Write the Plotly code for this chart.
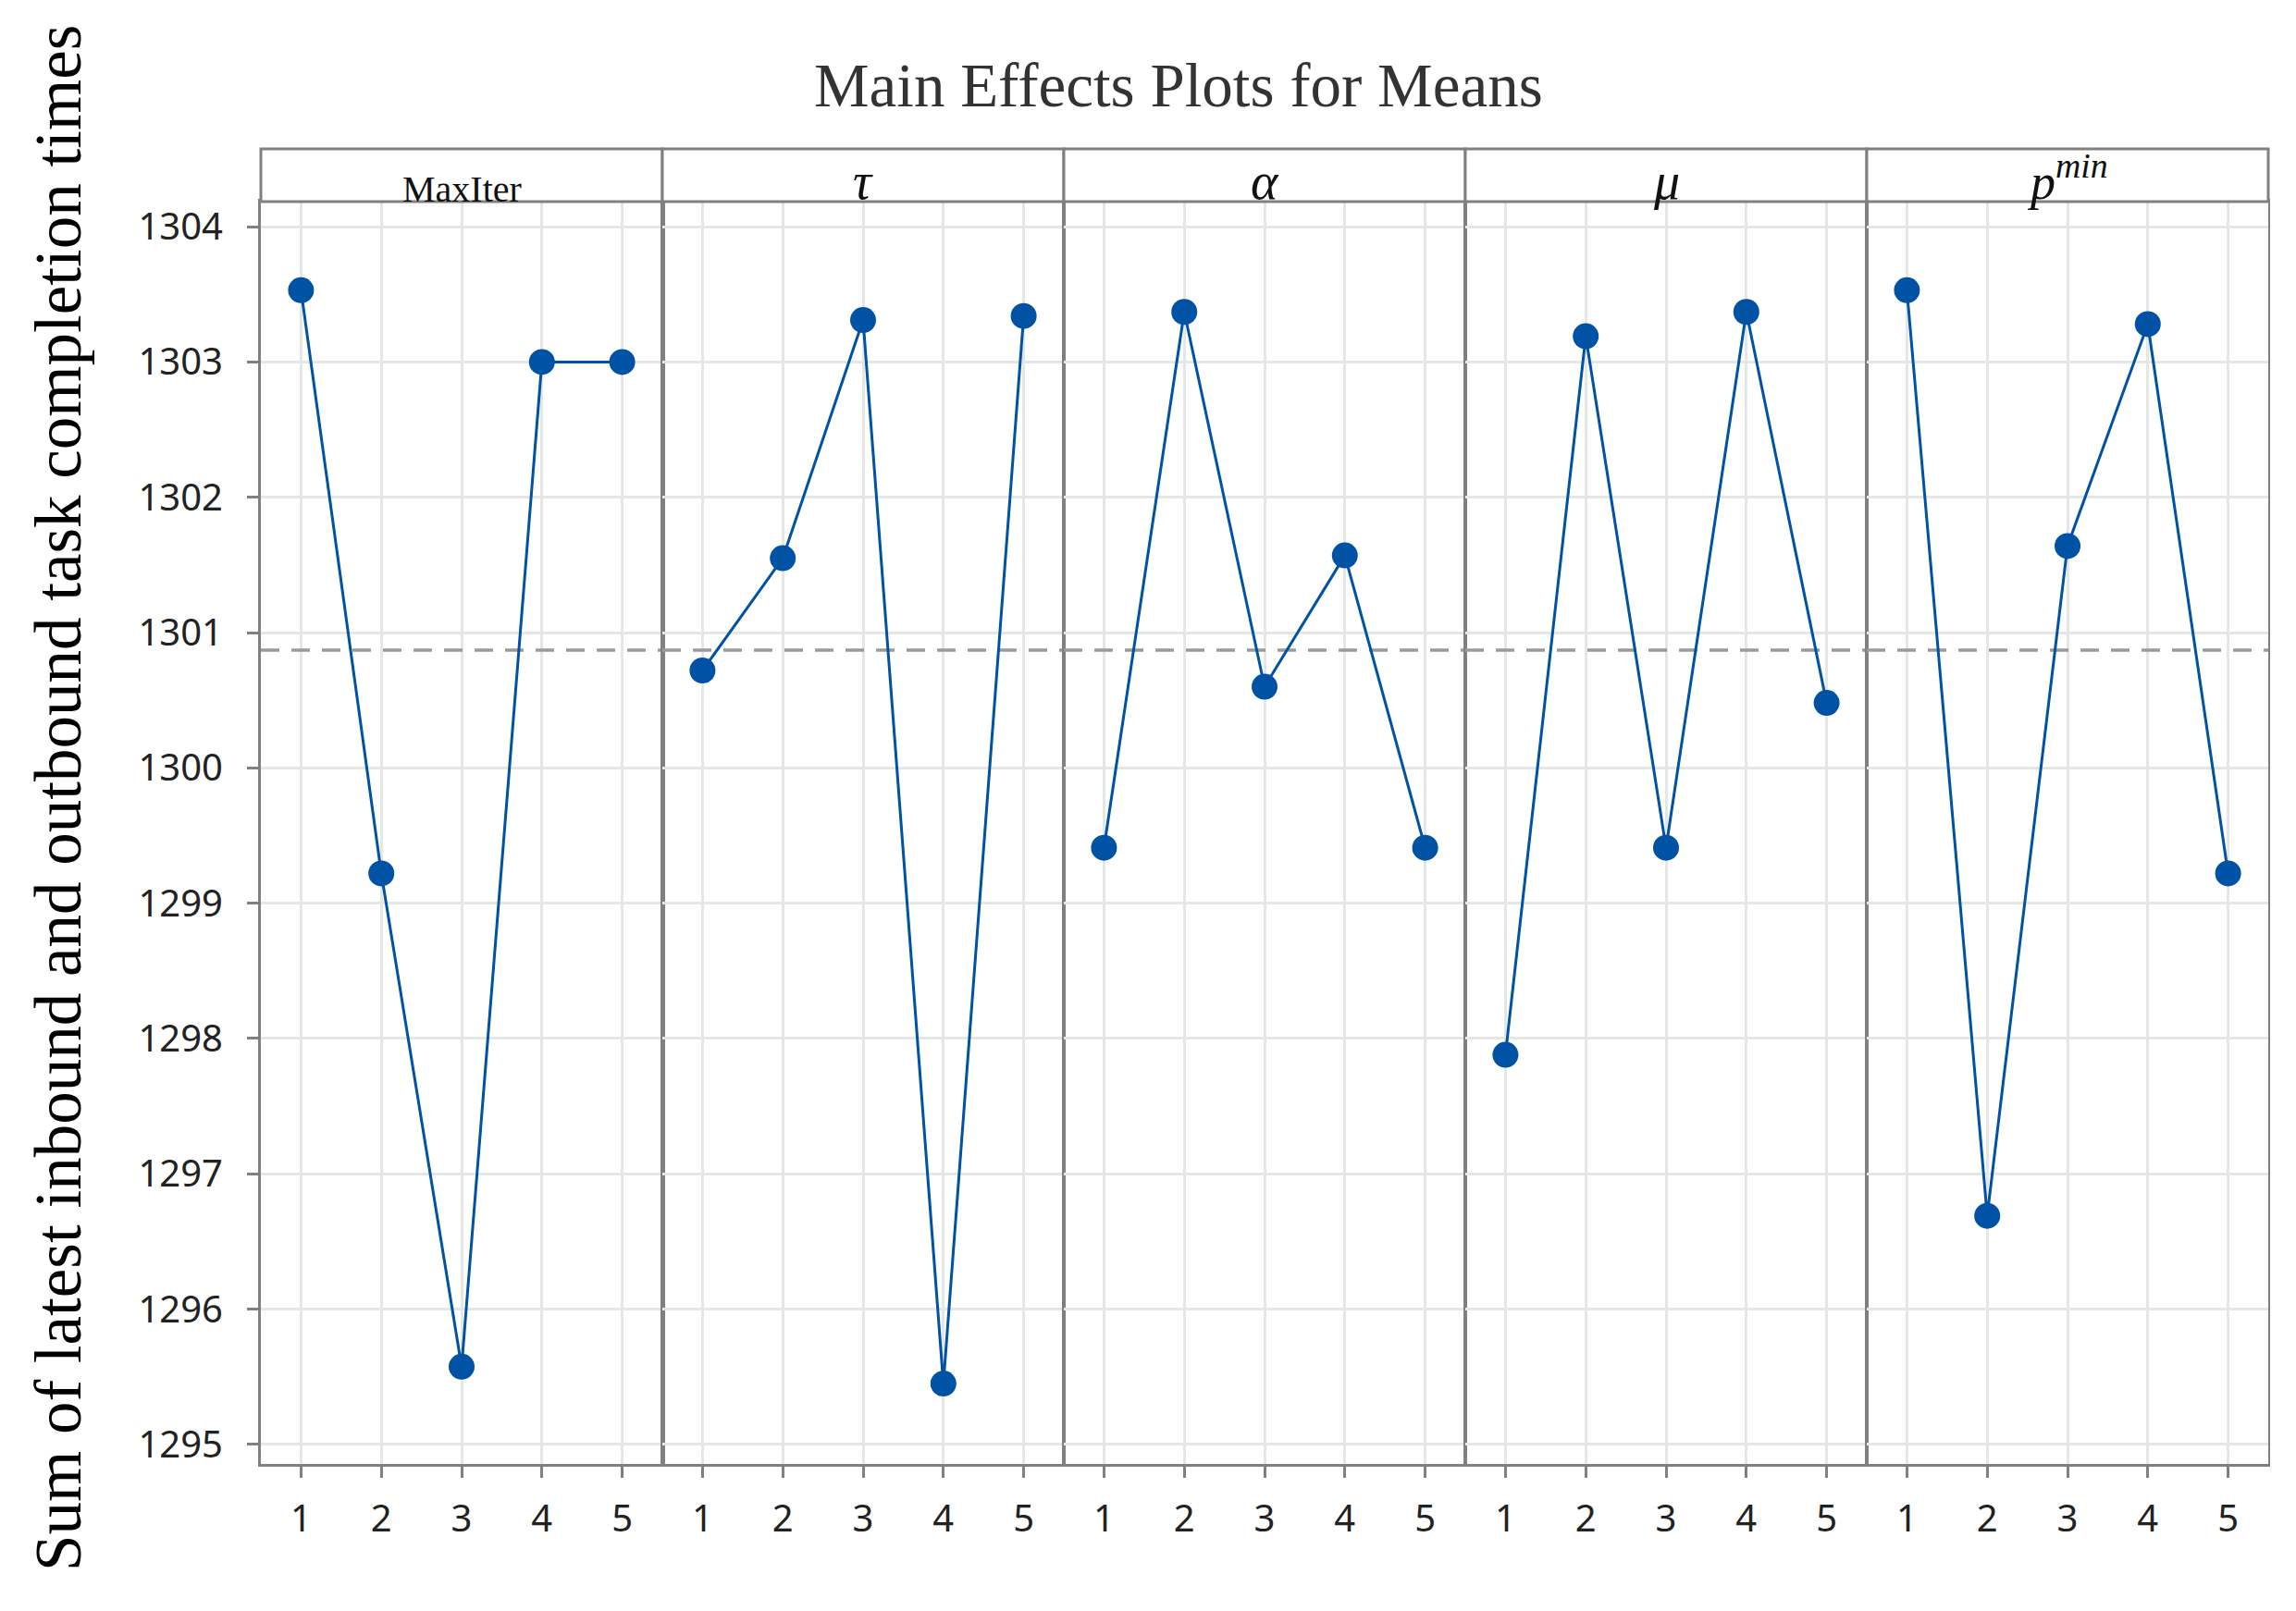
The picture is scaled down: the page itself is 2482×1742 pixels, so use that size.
import numpy as np
import plotly.graph_objects as go
from plotly.subplots import make_subplots

levels = [1, 2, 3, 4, 5]
factor_labels = ["MaxIter", "<i>τ</i>", "<i>α</i>", "<i>μ</i>", "<i>p</i><sup><i>min</i></sup>"]
maxiter_means = [1303.53, 1299.22, 1295.575, 1303.00, 1303.00]
tau_means = [1300.72, 1301.55, 1303.31, 1295.45, 1303.34]
alpha_means = [1299.41, 1303.37, 1300.60, 1301.57, 1299.41]
mu_means = [1297.88, 1303.19, 1299.41, 1303.37, 1300.48]
pmin_means = [1303.53, 1296.69, 1301.64, 1303.28, 1299.22]
y_ticks = [1295, 1296, 1297, 1298, 1299, 1300, 1301, 1302, 1303, 1304]

series = [maxiter_means, tau_means, alpha_means, mu_means, pmin_means]
grand_mean = float(np.mean(np.concatenate(series)))

# page body has an 8px margin; the figure is offset by (8, 8)
OFF = 8
SW, SH = 2482, 1742
W, H = SW - 2 * OFF, SH - 2 * OFF
# screen coordinates of plot area
sx0, sx1, sy0, sy1 = 282, 2452, 218, 1583
L, R, T, B = sx0 - OFF, W - (sx1 - OFF), sy0 - OFF, H - (sy1 - OFF)
plot_w = W - L - R
plot_h = H - T - B


def px(sx):
    return (sx - sx0) / plot_w


def py(sy):
    return (sy1 - sy) / plot_h


fig = make_subplots(rows=1, cols=5, shared_yaxes=True, horizontal_spacing=0)

blue = "#0052a5"
for i, vals in enumerate(series):
    fig.add_trace(go.Scatter(x=[0.5, 5.5], y=[grand_mean, grand_mean], mode="lines",
                             line=dict(color="#9a9a9a", width=3.5, dash="20px,13px"),
                             showlegend=False, hoverinfo="skip"), row=1, col=i + 1)
    fig.add_trace(go.Scatter(x=levels, y=vals, mode="lines+markers",
                             line=dict(color=blue, width=3),
                             marker=dict(color=blue, size=28, symbol="circle"),
                             showlegend=False), row=1, col=i + 1)

axis_common = dict(showgrid=True, gridcolor="#e6e6e6", gridwidth=3,
                   showline=True, linecolor="#808080", linewidth=3, mirror=True,
                   zeroline=False, ticks="outside", ticklen=12, tickwidth=3,
                   tickcolor="#808080",
                   tickfont=dict(family="Noto Sans", size=40, color="#222222"))

for i in range(5):
    fig.update_xaxes(range=[0.5, 5.5], tickvals=levels, ticklabelstandoff=10,
                     row=1, col=i + 1, **axis_common)
    fig.update_yaxes(range=[1294.856, 1304.185], tickvals=y_ticks,
                     row=1, col=i + 1, **axis_common)
    if i > 0:
        fig.update_yaxes(showticklabels=False, ticks="", linewidth=2, row=1, col=i + 1)
fig.update_yaxes(ticklabelstandoff=18, row=1, col=1)

strip_top = py(161)
annotations = []
for i in range(5):
    xa = fig.layout["xaxis" if i == 0 else f"xaxis{i + 1}"]
    d0, d1 = xa.domain
    fig.add_shape(type="rect", xref="paper", yref="paper", x0=d0, x1=d1, y0=1, y1=strip_top,
                  line=dict(color="#808080", width=3), fillcolor="white", layer="above")
    size = 40 if i == 0 else 56
    if i == 4:
        size = 54
    annotations.append(dict(text=factor_labels[i], xref="paper", yref="paper",
                            x=(d0 + d1) / 2, y=1.0 - 11 / plot_h, xanchor="center",
                            yanchor="bottom", showarrow=False,
                            font=dict(family="Liberation Serif", size=size, color="#111111")))

annotations.append(dict(text="Main Effects Plots for Means", xref="paper", yref="paper",
                        x=px(1274), y=py(92),
                        xanchor="center", yanchor="middle", showarrow=False,
                        font=dict(family="Liberation Serif", size=67, color="#333333")))
annotations.append(dict(text="Sum of latest inbound and outbound task completion times",
                        xref="paper", yref="paper", textangle=-90,
                        x=px(63), y=py(863),
                        xanchor="center", yanchor="middle", showarrow=False,
                        font=dict(family="Liberation Serif", size=71, color="#000000")))

fig.update_layout(width=W, height=H, margin=dict(l=L, r=R, t=T, b=B),
                  paper_bgcolor="white", plot_bgcolor="white",
                  annotations=annotations, showlegend=False)

fig.write_html("out.html")
